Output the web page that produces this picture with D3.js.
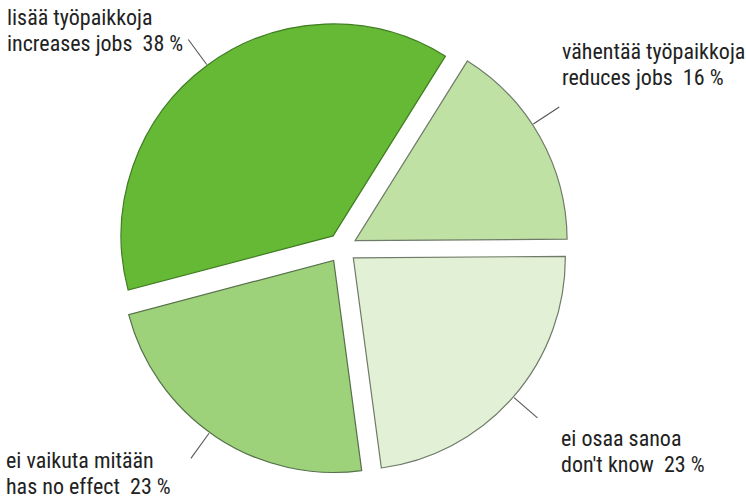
<!DOCTYPE html>
<html>
<head>
<meta charset="utf-8">
<script src="https://cdn.jsdelivr.net/npm/d3@7"></script>
<style>
  html, body { margin: 0; padding: 0; background: #fff; }
  svg text { font-family: "Liberation Sans Narrow", "Roboto Condensed", Roboto, sans-serif; }
</style>
</head>
<body>
<svg id="chart" width="746" height="500"></svg>
<script>
// -------------------- DATA -------------------- //
const labelsFi = ["vähentää työpaikkoja", "ei osaa sanoa", "ei vaikuta mitään", "lisää työpaikkoja"];
const labelsEn = ["reduces jobs", "don't know", "has no effect", "increases jobs"];
const shares = [16, 23, 23, 38];

// -------------------- LAYOUT -------------------- //
const cx = 342, cy = 248;
const R = 212;
const explode = 15;
const fills = ["#bfe1a4", "#e2f1d5", "#9dd27a", "#66b934"];
const strokes = ["#6f7a68", "#6f7a68", "#56704a", "#3f7d22"];
// label text anchor (x, first baseline) per slice
const labelPos = [[562, 59], [561, 446], [6, 468], [7, 25]];
// leader line angle nudge (degrees) per slice
const leaderNudge = [-4, 0, 2, 0];

const svg = d3.select("#chart");

const deg = Math.PI / 180;
const start = 32 * deg;
const pie = d3.pie().sort(null).startAngle(start).endAngle(start + 2 * Math.PI);
const arcs = pie(shares);
const arc = d3.arc().innerRadius(0).outerRadius(R);

// small offset of each slice along its mid angle
function offset(d) {
    let m = (d.startAngle + d.endAngle) / 2;
    return [cx + explode * Math.sin(m), cy - explode * Math.cos(m)];
}

let slices = svg.append("g").attr("class", "slices");
slices.selectAll("path")
    .data(arcs)
    .join("path")
    .attr("transform", d => "translate(" + offset(d) + ")")
    .attr("d", arc)
    .attr("fill", (d, i) => fills[i])
    .attr("stroke", (d, i) => strokes[i])
    .attr("stroke-width", 1.2);

// leader lines, roughly radial at the mid angle
let leaders = svg.append("g").attr("class", "leaders");
leaders.selectAll("line")
    .data(arcs)
    .join("line")
    .each(function (d, i) {
        let o = offset(d);
        let m = (d.startAngle + d.endAngle) / 2 + leaderNudge[i] * deg;
        d3.select(this)
            .attr("x1", o[0] + (R + 1) * Math.sin(m))
            .attr("y1", o[1] - (R + 1) * Math.cos(m))
            .attr("x2", o[0] + (R + 32) * Math.sin(m))
            .attr("y2", o[1] - (R + 32) * Math.cos(m));
    })
    .attr("stroke", "#555")
    .attr("stroke-width", 1.1);

// labels
let labels = svg.append("g").attr("class", "labels");
arcs.forEach((d, i) => {
    let t = labels.append("text")
        .attr("x", labelPos[i][0])
        .attr("y", labelPos[i][1])
        .attr("fill", "#222")
        .attr("font-size", 22);
    t.append("tspan").attr("x", labelPos[i][0]).text(labelsFi[i]);
    t.append("tspan").attr("x", labelPos[i][0]).attr("dy", 26)
        .attr("xml:space", "preserve")
        .text(labelsEn[i] + "  " + shares[i] + " %");
});
</script>
</body>
</html>
